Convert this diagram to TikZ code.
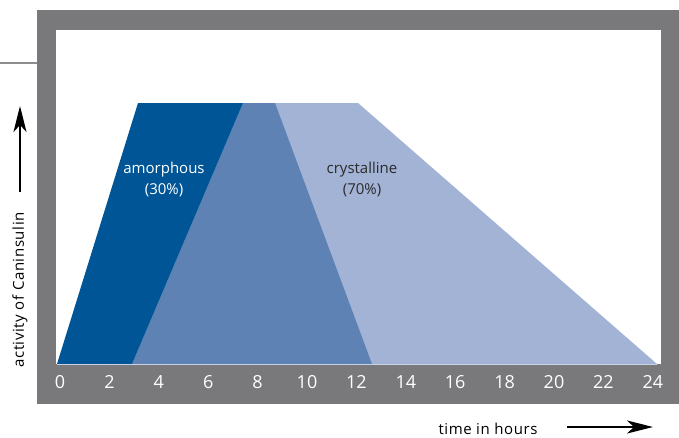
\documentclass[tikz,border=0pt]{standalone}
\usepackage{fontspec}
\setmainfont{Open Sans}
\newfontfamily\labelfont[LetterSpace=4]{Open Sans}
\usepackage{tikz}
\usetikzlibrary{arrows.meta}
\definecolor{framegray}{HTML}{79797B}
\definecolor{amorblue}{HTML}{005596}
\definecolor{midblue}{HTML}{5F82B5}
\definecolor{crysblue}{HTML}{A3B3D6}
\definecolor{textgray}{HTML}{2A2A2A}
\begin{document}
\begin{tikzpicture}[
        x=1pt, y=-1pt,
        tick/.style={text=white,font=\fontsize{18}{18}\selectfont,inner sep=0pt},
        phase/.style={align=center,font=\fontsize{15}{21}\selectfont,inner sep=0pt},
        axislabel/.style={text=black,font=\labelfont\fontsize{15}{16}\selectfont,inner sep=0pt},
        bigarrow/.style={-{Stealth[length=26pt,width=13pt,inset=7pt]},line width=2.2pt},
        every path/.append style={line join=miter}
    ]
        \useasboundingbox (0,0) rectangle (679,437);

        % frame and plot area
        \fill [framegray] (37,10) rectangle (679,404);
        \fill [white] (56,30) rectangle (661,364);
        \draw [framegray!85, line width=1.6pt] (0,63) -- (37,63);

        % phases
        \fill [crysblue] (243,103) -- (358,103) -- (657,364) -- (132,364) -- cycle;
        \fill [midblue]  (132,364) -- (243,103) -- (275,103) -- (372,364) -- cycle;
        \fill [amorblue] (57,364) -- (138,103) -- (243,103) -- (132,364) -- cycle;
        \draw [crysblue!60!white, line width=0.8pt] (57,364) -- (657,364);

        \node [phase,text=white]    (amor) at (164,179) {amorphous\\(30\%)};
        \node [phase,text=textgray] (crys) at (362,179) {crystalline\\(70\%)};

        % hour ticks
        \foreach \h in {0,2,...,24}
            \node [tick] (t\h) at ({60+24.7*\h},382) {\h};

        % axis labels
        \node [axislabel,rotate=90] (ylab) at (20,290) {activity of Caninsulin};
        \node [axislabel] (xlab) at (488,429) {time in hours};

        \coordinate (yfrom) at (20,192);
        \coordinate (yto)   at (20,106);
        \coordinate (xfrom) at (567,427);
        \coordinate (xto)   at (653,427);
        \draw [bigarrow] (yfrom) -- (yto);
        \draw [bigarrow] (xfrom) -- (xto);
    \end{tikzpicture}
\end{document}
